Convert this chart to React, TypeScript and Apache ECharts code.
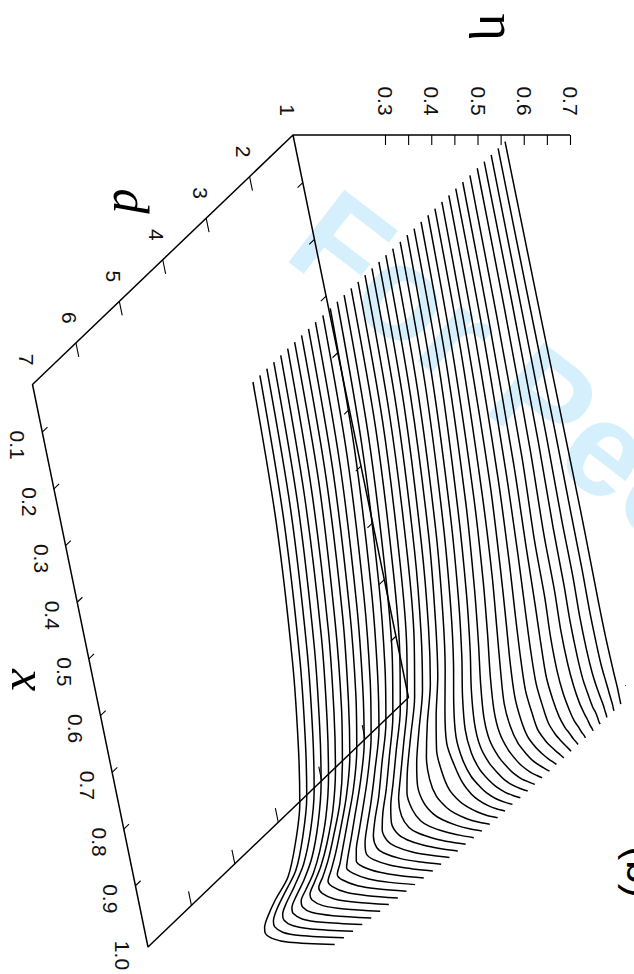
import React, { useEffect, useRef } from "react";
import * as echarts from "echarts";

// d of each of the 37 curves, from the far side of the surface to the near side
const dValues = [6.94,6.78,6.62,6.46,6.30,6.14,5.98,5.82,5.66,5.50,5.34,5.17,5.01,4.85,4.69,4.53,4.37,4.21,4.05,3.89,3.73,3.57,3.41,3.25,3.09,2.93,2.77,2.61,2.45,2.29,2.13,1.97,1.80,1.64,1.48,1.32,1.16];

// fraction along the x edge at which eta was read
const xSamples = [0,0.25,0.5,0.65,0.75,0.82,0.88,0.92,0.95,0.97,0.98,0.99,0.996,1];

// eta of every curve at each fraction
const eta00 = [.571,.571,.571,.571,.571,.571,.571,.571,.571,.571,.572,.572,.572,.572,.572,.572,.572,.572,.572,.572,.572,.573,.573,.573,.573,.573,.573,.573,.573,.573,.573,.5735,.5735,.5735,.5735,.5735,.5735];
const eta25 = [.559,.559,.560,.560,.560,.560,.561,.561,.561,.561,.562,.562,.562,.562,.563,.563,.563,.563,.563,.563,.563,.564,.564,.565,.565,.565,.566,.566,.567,.568,.568,.569,.570,.571,.571,.572,.573];
const eta50 = [.532,.532,.533,.533,.534,.534,.534,.535,.535,.535,.536,.536,.537,.537,.538,.538,.539,.539,.539,.540,.540,.541,.542,.543,.545,.547,.549,.552,.554,.556,.558,.561,.563,.566,.568,.571,.573];
const eta65 = [.507,.507,.508,.508,.509,.509,.510,.510,.511,.511,.512,.512,.513,.514,.515,.515,.516,.516,.517,.517,.518,.520,.522,.524,.526,.530,.534,.537,.541,.545,.548,.551,.555,.560,.564,.569,.573];
const eta75 = [.485,.485,.486,.486,.487,.487,.487,.488,.488,.489,.489,.490,.490,.490,.491,.491,.492,.494,.496,.497,.498,.501,.504,.507,.510,.515,.520,.525,.530,.536,.542,.548,.553,.558,.563,.568,.572];
const eta82 = [.458,.459,.461,.462,.464,.464,.464,.463,.463,.463,.464,.464,.464,.465,.465,.466,.466,.469,.472,.476,.480,.484,.488,.492,.497,.503,.510,.516,.523,.530,.537,.543,.549,.555,.560,.566,.571];
const eta88 = [.427,.429,.431,.434,.436,.436,.435,.435,.435,.436,.438,.440,.442,.443,.443,.444,.444,.449,.455,.462,.469,.474,.479,.484,.489,.496,.503,.511,.519,.527,.534,.542,.549,.555,.560,.566,.571];
const eta92 = [.390,.395,.401,.407,.412,.413,.414,.415,.416,.418,.420,.422,.424,.426,.428,.430,.433,.441,.452,.464,.476,.478,.482,.486,.491,.498,.506,.514,.523,.531,.538,.545,.552,.557,.562,.567,.572];
const eta95 = [.366,.370,.376,.382,.388,.391,.395,.398,.402,.404,.407,.410,.413,.417,.422,.429,.437,.447,.459,.472,.486,.489,.493,.498,.503,.509,.515,.521,.528,.536,.544,.551,.557,.562,.566,.570,.573];
const eta97 = [.354,.358,.363,.368,.373,.377,.381,.386,.391,.396,.402,.408,.415,.423,.431,.440,.450,.463,.476,.488,.500,.505,.509,.514,.518,.523,.529,.534,.540,.546,.552,.557,.563,.566,.570,.572,.574];
const eta98 = [.353,.358,.363,.368,.373,.379,.386,.393,.400,.408,.414,.421,.428,.438,.448,.457,.467,.480,.491,.502,.512,.516,.520,.524,.528,.533,.538,.544,.549,.554,.559,.563,.567,.570,.572,.573,.574];
const eta99 = [.368,.373,.379,.385,.390,.400,.410,.420,.430,.439,.448,.455,.462,.472,.482,.491,.500,.508,.515,.523,.530,.533,.537,.540,.543,.547,.552,.556,.560,.563,.565,.568,.570,.572,.573,.574,.574];
const eta996 = [.400,.409,.418,.427,.435,.445,.455,.465,.475,.483,.491,.498,.505,.512,.518,.524,.530,.534,.538,.542,.547,.550,.553,.555,.558,.560,.563,.565,.567,.569,.570,.572,.573,.573,.574,.574,.574];
const eta100 = [.498,.503,.5075,.5126,.517,.5213,.525,.5294,.533,.5367,.5404,.544,.547,.55,.553,.555,.5575,.56,.562,.564,.565,.566,.568,.569,.5694,.57,.571,.571,.572,.5726,.5726,.5735,.5743,.5743,.5737,.5743,.574];
const etaColumns = [eta00,eta25,eta50,eta65,eta75,eta82,eta88,eta92,eta95,eta97,eta98,eta99,eta996,eta100];

const xTicks = [0.1,0.2,0.3,0.4,0.5,0.6,0.7,0.8,0.9];
const xLabels = ["0.1","0.2","0.3","0.4","0.5","0.6","0.7","0.8","0.9","1.0"];
const dTicks = [2,3,4,5,6];
const dLabels = ["1","2","3","4","5","6","7"];
const etaTicks = [0.3,0.35,0.4,0.45,0.5,0.55,0.6,0.65,0.7];
const etaLabels = ["0.3","0.4","0.5","0.6","0.7"];

// orthographic view of the box
const xFrac = (x: number) => (x - 0.016) / 0.992;
const dFrac = (d: number) => (d - 1) / 6;
const project = (t: number, s: number, eta: number) => [
  293 + 115.5 * t - 260.5 * s + (eta - 0.1) * 462.5,
  135 + 562.5 * t + 249.5 * s,
];

const lineSeries = (data: (number[] | null[])[], width: number) => ({
  type: "line",
  data,
  showSymbol: false,
  symbol: "none",
  silent: true,
  clip: false,
  z: 3,
  lineStyle: { color: "#000", width },
});

const textEl = (text: string, x: number, y: number, fontSize: number, fontFamily: string, extra: any = {}) => ({
  type: "text",
  x,
  y,
  rotation: -Math.PI / 2,
  z: 10,
  style: { text, fontSize, fontFamily, fill: "#111", align: "center", verticalAlign: "middle", ...extra },
});

export default function App() {
  const ref = useRef<HTMLDivElement>(null);
  useEffect(() => {
    const chart = echarts.init(ref.current!, null, { renderer: "svg" });

    const curves = dValues.map((d, j) => ({
      ...lineSeries(xSamples.map((t, k) => project(t, dFrac(d), etaColumns[k][j])), 1.5),
      smooth: 0.3,
    }));

    const frame = [
      project(0, 0, 0.1 + 277 / 462.5),
      project(0, 0, 0.1),
      project(0, 1, 0.1),
      project(1, 1, 0.1),
      project(1, 0, 0.1),
      project(0, 0, 0.1),
    ];

    const ticks: any[] = [];
    const brk = [null, null];
    dTicks.forEach((d) => {
      ticks.push(project(0, dFrac(d), 0.1), project(0.025, dFrac(d), 0.1), brk);
    });
    [0.1667, 0.3333, 0.5, 0.6667, 0.8333].forEach((s) => {
      ticks.push(project(1, s, 0.1), project(0.975, s, 0.1), brk);
    });
    xTicks.forEach((x) => {
      const t = xFrac(x);
      ticks.push(project(t, 1, 0.1), project(t, 0.98, 0.1), brk);
      ticks.push(project(t, 0, 0.1), project(t, 0.02, 0.1), brk);
    });
    etaTicks.forEach((e) => {
      const p = project(0, 0, e);
      ticks.push(p, [p[0], p[1] + 10], brk);
    });

    const labels: any[] = [];
    etaLabels.forEach((l) => {
      const p = project(0, 0, parseFloat(l));
      labels.push(textEl(l, p[0], 101, 21, "Liberation Sans"));
    });
    dLabels.forEach((l) => {
      const p = project(0, dFrac(parseFloat(l)), 0.1);
      labels.push(textEl(l, p[0] - 6, p[1] - 25, 21, "Liberation Sans"));
    });
    xLabels.forEach((l) => {
      const p = project(xFrac(parseFloat(l)), 1, 0.1);
      labels.push(textEl(l, p[0] - 24.5, p[1] + 13, 21, "Liberation Sans"));
    });

    chart.setOption({
      animation: false,
      backgroundColor: "#fff",
      grid: { left: 0, right: 0, top: 0, bottom: 0 },
      xAxis: { type: "value", min: 0, max: 634, show: false },
      yAxis: { type: "value", min: 0, max: 974, inverse: true, show: false },
      series: [lineSeries(frame, 1.5), lineSeries(ticks, 1.1), ...curves],
      graphic: [
        {
          type: "text",
          x: 269,
          y: 273,
          rotation: (-37.5 * Math.PI) / 180,
          z: 0,
          style: {
            text: "For Peer Review",
            fontSize: 133,
            fontWeight: "bold",
            fontFamily: "Liberation Sans",
            fill: "#d5f0fc",
            align: "left",
            verticalAlign: "bottom",
          },
        },
        ...labels,
        textEl("d", 131, 201, 50, "Liberation Serif", { fontStyle: "italic", fill: "#000" }),
        textEl("x", 29, 680, 50, "Liberation Serif", { fontStyle: "italic", fill: "#000" }),
        textEl("\u03b7", 497, 27, 52, "Liberation Serif", { fill: "#000" }),
        textEl("(b)", 641, 872, 42, "Liberation Sans", { fill: "#000" }),
        { type: "rect", shape: { x: 625, y: 685, width: 1, height: 1 }, z: 10, style: { fill: "#555" } },
      ],
    });
    return () => chart.dispose();
  }, []);
  return <div ref={ref} style={{ position: "absolute", left: 0, top: 0, width: 634, height: 974 }} />;
}
